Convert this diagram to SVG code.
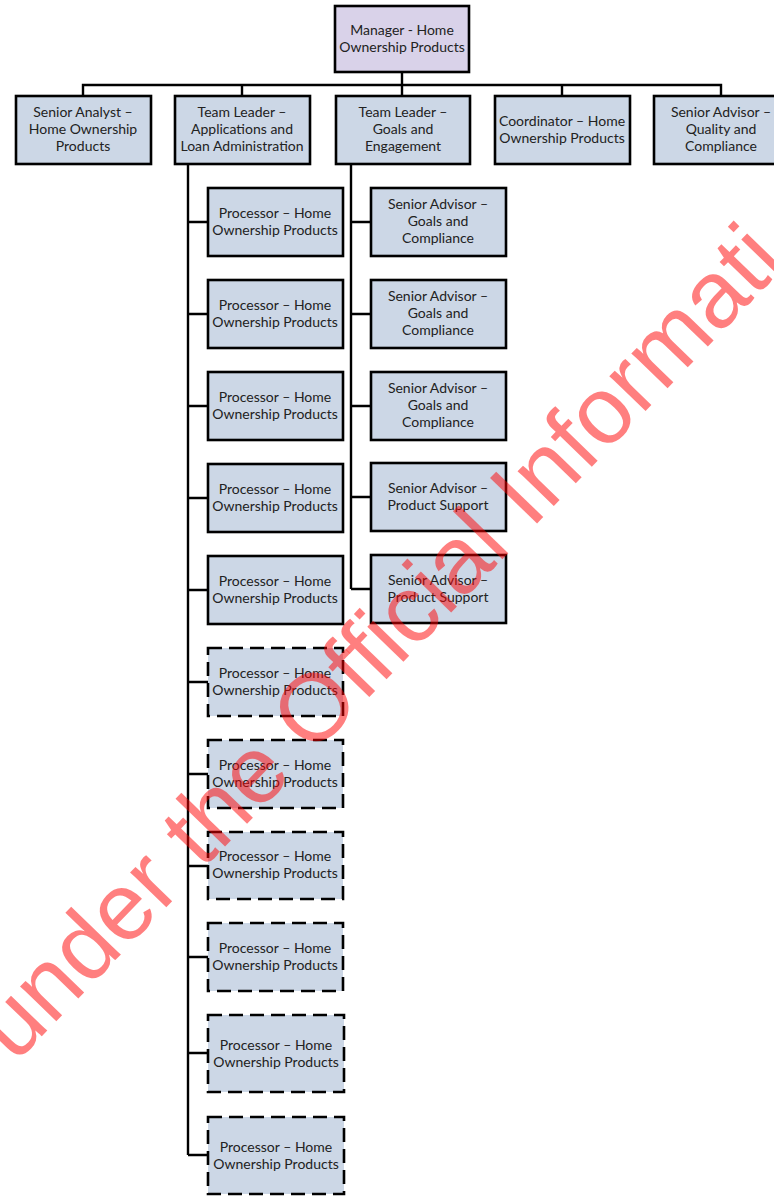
<svg xmlns="http://www.w3.org/2000/svg" width="774" height="1197" viewBox="0 0 774 1197">
<style>
.box{fill:#ccd7e6;stroke:#000;stroke-width:2.6}
.mgr{fill:#d9d2e9;stroke:#000;stroke-width:2.6}
.dash{stroke-dasharray:14 7}
.t{font-family:Lato,"Liberation Sans",sans-serif;font-size:14px;fill:#222;text-anchor:middle}
.c{fill:none;stroke:#000;stroke-width:2.4}
.wm{font-family:"Liberation Sans",Arial,sans-serif;font-size:95px;fill:#ff0000;fill-opacity:0.5}
</style>
<g id="connectors" class="c">
<path d="M402 72V85M83 96V85H721V96M242 85V96M402 85V96M562 85V96"/>
<path d="M188 164V1155M188 222H208M188 314H208M188 406H208M188 498H208M188 590H208M188 682H208M188 774H208M188 866H208M188 957H208M188 1053H208M188 1155H208"/>
<path d="M351 164V589M351 222H371M351 314H371M351 406H371M351 497H371M351 589H371"/>
</g>
<g id="manager"><rect class="mgr" x="335" y="6" width="134" height="66"/><text class="t" x="402" y="35">Manager - Home</text><text class="t" x="402" y="52">Ownership Products</text></g>
<g id="senior-analyst"><rect class="box" x="16" y="96" width="135" height="68"/><text class="t" x="83" y="117">Senior Analyst –</text><text class="t" x="83" y="134">Home Ownership</text><text class="t" x="83" y="151">Products</text></g>
<g id="team-leader-apps"><rect class="box" x="175" y="96" width="135" height="68"/><text class="t" x="242" y="117">Team Leader –</text><text class="t" x="242" y="134">Applications and</text><text class="t" x="242" y="151">Loan Administration</text></g>
<g id="team-leader-goals"><rect class="box" x="336" y="96" width="134" height="68"/><text class="t" x="403" y="117">Team Leader –</text><text class="t" x="403" y="134">Goals and</text><text class="t" x="403" y="151">Engagement</text></g>
<g id="coordinator"><rect class="box" x="495" y="96" width="135" height="68"/><text class="t" x="562" y="126">Coordinator – Home</text><text class="t" x="562" y="143">Ownership Products</text></g>
<g id="senior-advisor-qc"><rect class="box" x="654" y="96" width="135" height="68"/><text class="t" x="721" y="117">Senior Advisor –</text><text class="t" x="721" y="134">Quality and</text><text class="t" x="721" y="151">Compliance</text></g>

<g id="proc1"><rect class="box" x="208" y="188" width="135" height="68"/><text class="t" x="275" y="218">Processor – Home</text><text class="t" x="275" y="235">Ownership Products</text></g>
<g id="proc2"><rect class="box" x="208" y="280" width="135" height="68"/><text class="t" x="275" y="310">Processor – Home</text><text class="t" x="275" y="327">Ownership Products</text></g>
<g id="proc3"><rect class="box" x="208" y="372" width="135" height="68"/><text class="t" x="275" y="402">Processor – Home</text><text class="t" x="275" y="419">Ownership Products</text></g>
<g id="proc4"><rect class="box" x="208" y="464" width="135" height="68"/><text class="t" x="275" y="494">Processor – Home</text><text class="t" x="275" y="511">Ownership Products</text></g>
<g id="proc5"><rect class="box" x="208" y="556" width="135" height="68"/><text class="t" x="275" y="586">Processor – Home</text><text class="t" x="275" y="603">Ownership Products</text></g>
<g id="proc6"><rect class="box dash" x="208" y="648" width="135" height="68"/><text class="t" x="275" y="678">Processor – Home</text><text class="t" x="275" y="695">Ownership Products</text></g>
<g id="proc7"><rect class="box dash" x="208" y="740" width="135" height="68"/><text class="t" x="275" y="770">Processor – Home</text><text class="t" x="275" y="787">Ownership Products</text></g>
<g id="proc8"><rect class="box dash" x="208" y="832" width="135" height="67"/><text class="t" x="275" y="861">Processor – Home</text><text class="t" x="275" y="878">Ownership Products</text></g>
<g id="proc9"><rect class="box dash" x="208" y="923" width="135" height="68"/><text class="t" x="275" y="953">Processor – Home</text><text class="t" x="275" y="970">Ownership Products</text></g>
<g id="proc10"><rect class="box dash" x="208" y="1015" width="136" height="77"/><text class="t" x="276" y="1050">Processor – Home</text><text class="t" x="276" y="1067">Ownership Products</text></g>
<g id="proc11"><rect class="box dash" x="208" y="1117" width="136" height="77"/><text class="t" x="276" y="1152">Processor – Home</text><text class="t" x="276" y="1169">Ownership Products</text></g>

<g id="sa-goals1"><rect class="box" x="371" y="188" width="135" height="68"/><text class="t" x="438" y="209">Senior Advisor –</text><text class="t" x="438" y="226">Goals and</text><text class="t" x="438" y="243">Compliance</text></g>
<g id="sa-goals2"><rect class="box" x="371" y="280" width="135" height="68"/><text class="t" x="438" y="301">Senior Advisor –</text><text class="t" x="438" y="318">Goals and</text><text class="t" x="438" y="335">Compliance</text></g>
<g id="sa-goals3"><rect class="box" x="371" y="372" width="135" height="68"/><text class="t" x="438" y="393">Senior Advisor –</text><text class="t" x="438" y="410">Goals and</text><text class="t" x="438" y="427">Compliance</text></g>
<g id="sa-ps1"><rect class="box" x="371" y="463" width="135" height="68"/><text class="t" x="438" y="493">Senior Advisor –</text><text class="t" x="438" y="510">Product Support</text></g>
<g id="sa-ps2"><rect class="box" x="371" y="555" width="135" height="68"/><text class="t" x="438" y="585">Senior Advisor –</text><text class="t" x="438" y="602">Product Support</text></g>

<text class="wm" transform="translate(15,1064) rotate(-46)">under the Official Informati</text>
</svg>
